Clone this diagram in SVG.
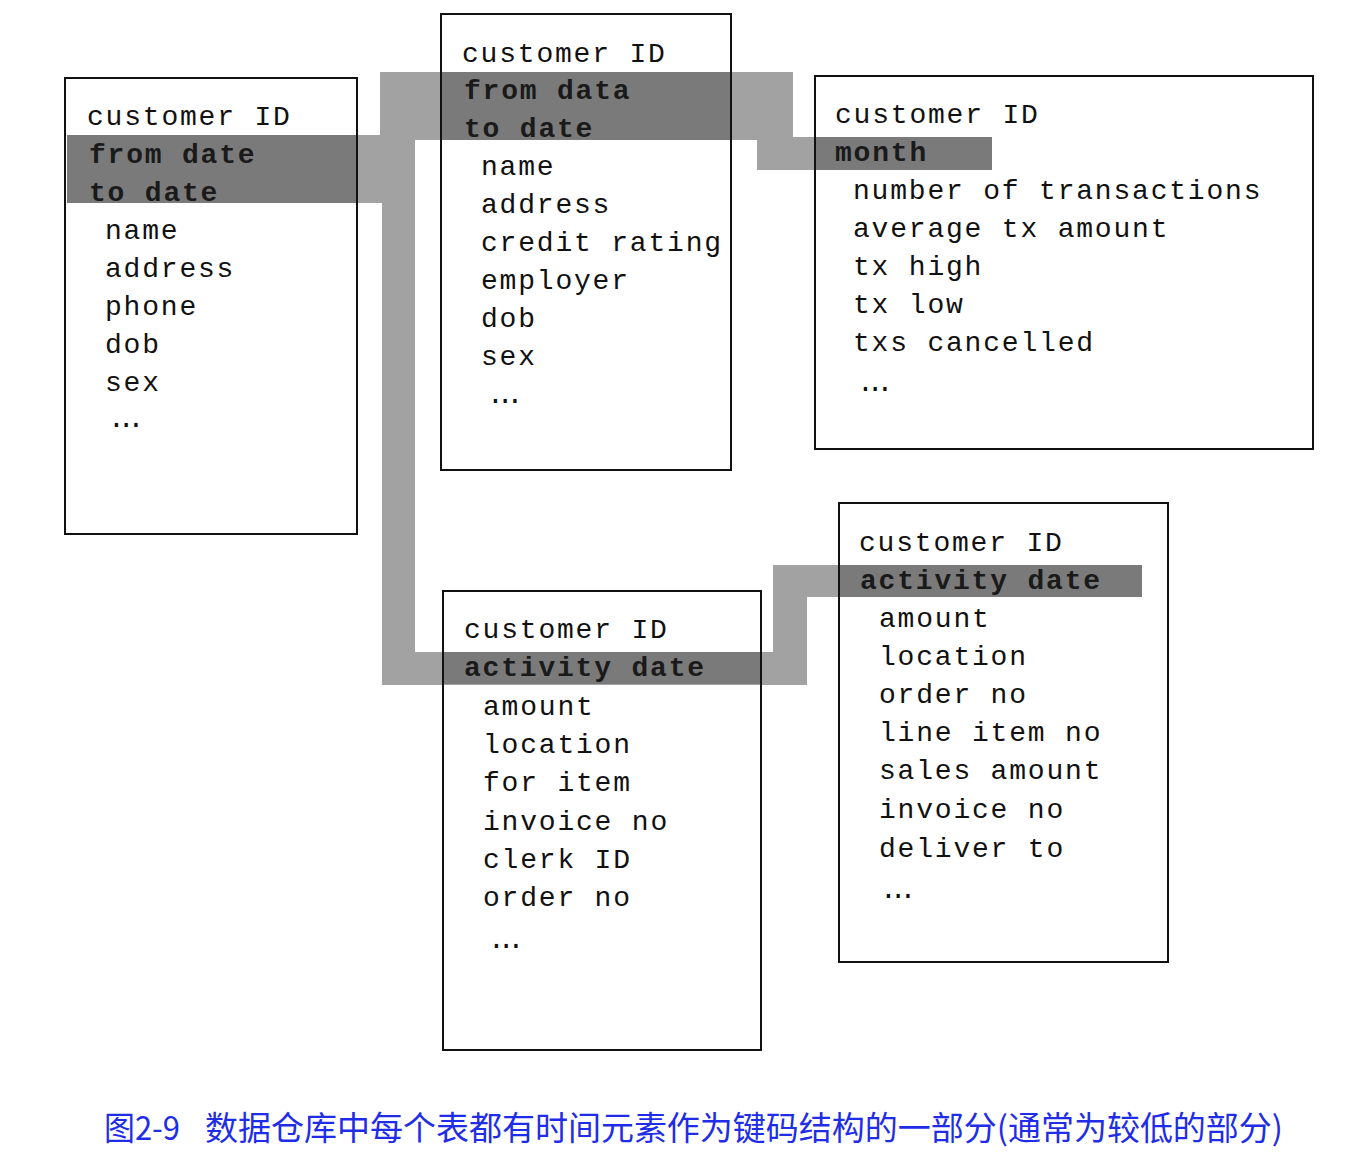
<svg xmlns="http://www.w3.org/2000/svg" width="1366" height="1158" viewBox="0 0 1366 1158">
<style>
.box{fill:none;stroke:#111;stroke-width:2}
.t{font-family:"Liberation Mono","DejaVu Sans Mono",monospace;font-size:28px;letter-spacing:1.8px;fill:#111}
.k{font-weight:bold;fill:#1a1a1a}
.e{letter-spacing:-7px}
.hl{fill:#7a7a7a}
.cap{font-family:"Noto Sans CJK SC",sans-serif;font-size:33px;fill:#1f2de8}
</style>
<rect width="1366" height="1158" fill="#fff"/>
<g id="connectors">
<path fill="#a2a2a2" d="M382 72h33v613h-33z M67 135h348v68H67z M380 72h413v68H380z M757 137h235v33H757z M382 652h425v33H382z M773 565h34v120h-34z M773 565h369v32H773z"/>
</g>
<g id="node-customer-1">
<rect class="hl" x="67" y="135" width="290" height="68"/>
<rect class="box" x="65" y="78" width="292" height="456"/>
<text class="t" x="87" y="125">customer ID</text>
<text class="t k" x="89" y="163">from date</text>
<text class="t k" x="89" y="201">to date</text>
<text class="t" x="105" y="239">name</text>
<text class="t" x="105" y="277">address</text>
<text class="t" x="105" y="315">phone</text>
<text class="t" x="105" y="353">dob</text>
<text class="t" x="105" y="391">sex</text>
<text class="t e" x="108" y="427">...</text>
</g>
<g id="node-customer-2">
<rect class="hl" x="441" y="72" width="289" height="68"/>
<rect class="box" x="441" y="14" width="290" height="456"/>
<text class="t" x="462" y="62">customer ID</text>
<text class="t k" x="464" y="99">from data</text>
<text class="t k" x="464" y="137">to date</text>
<text class="t" x="481" y="175">name</text>
<text class="t" x="481" y="213">address</text>
<text class="t" x="481" y="251">credit rating</text>
<text class="t" x="481" y="289">employer</text>
<text class="t" x="481" y="327">dob</text>
<text class="t" x="481" y="365">sex</text>
<text class="t e" x="487" y="403">...</text>
</g>
<g id="node-monthly">
<rect class="hl" x="815" y="137" width="177" height="33"/>
<rect class="box" x="815" y="76" width="498" height="373"/>
<text class="t" x="835" y="123">customer ID</text>
<text class="t k" x="835" y="161">month</text>
<text class="t" x="853" y="199">number of transactions</text>
<text class="t" x="853" y="237">average tx amount</text>
<text class="t" x="853" y="275">tx high</text>
<text class="t" x="853" y="313">tx low</text>
<text class="t" x="853" y="351">txs cancelled</text>
<text class="t e" x="857" y="391">...</text>
</g>
<g id="node-activity-1">
<rect class="hl" x="443" y="652" width="317" height="32"/>
<rect class="box" x="443" y="591" width="318" height="459"/>
<text class="t" x="464" y="638">customer ID</text>
<text class="t k" x="464" y="676">activity date</text>
<text class="t" x="483" y="715">amount</text>
<text class="t" x="483" y="753">location</text>
<text class="t" x="483" y="791">for item</text>
<text class="t" x="483" y="830">invoice no</text>
<text class="t" x="483" y="868">clerk ID</text>
<text class="t" x="483" y="906">order no</text>
<text class="t e" x="488" y="948">...</text>
</g>
<g id="node-activity-2">
<rect class="hl" x="839" y="565" width="303" height="32"/>
<rect class="box" x="839" y="503" width="329" height="459"/>
<text class="t" x="859" y="551">customer ID</text>
<text class="t k" x="860" y="589">activity date</text>
<text class="t" x="879" y="627">amount</text>
<text class="t" x="879" y="665">location</text>
<text class="t" x="879" y="703">order no</text>
<text class="t" x="879" y="741">line item no</text>
<text class="t" x="879" y="779">sales amount</text>
<text class="t" x="879" y="818">invoice no</text>
<text class="t" x="879" y="857">deliver to</text>
<text class="t e" x="880" y="898">...</text>
</g>
<text class="cap" x="104" y="1140" textLength="76" lengthAdjust="spacingAndGlyphs">图2-9</text>
<text class="cap" x="205" y="1140" textLength="1078" lengthAdjust="spacingAndGlyphs">数据仓库中每个表都有时间元素作为键码结构的一部分(通常为较低的部分)</text>
</svg>
